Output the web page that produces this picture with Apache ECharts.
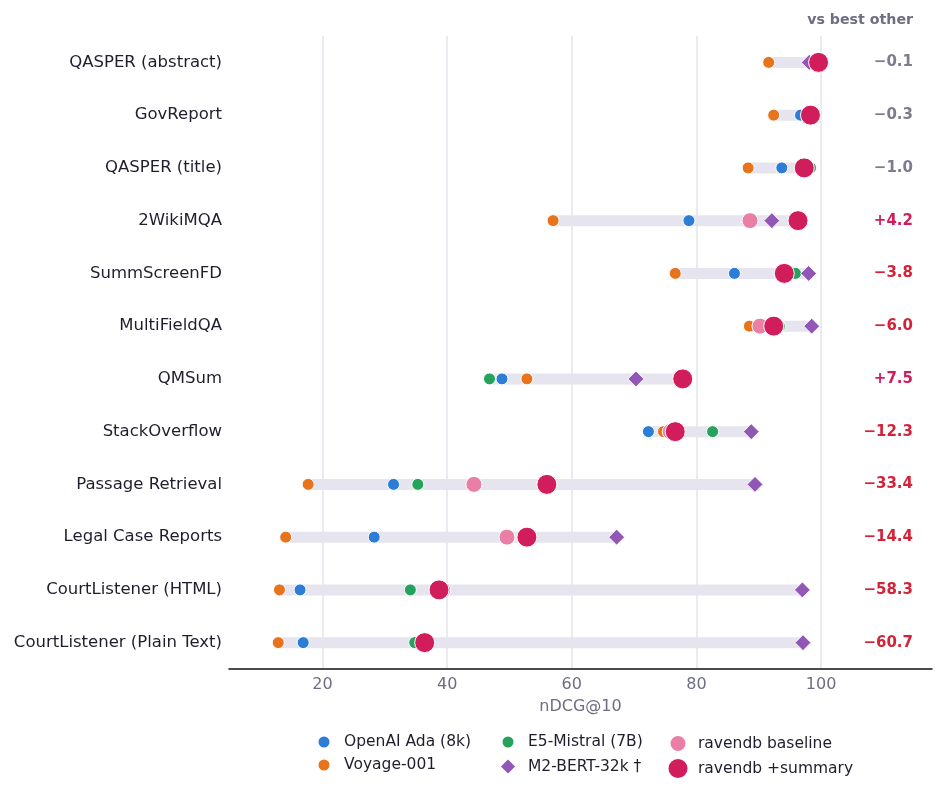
<!DOCTYPE html>
<html>
<head>
<meta charset="utf-8">
<title>nDCG@10</title>
<script src="https://cdn.jsdelivr.net/npm/echarts@6/dist/echarts.min.js"></script>
<style>
  html, body { margin: 0; padding: 0; background: #fff; }
  #main { width: 945px; height: 792px; }
</style>
</head>
<body>
<div id="main"></div>
<script>
// 数据集 (从上到下)
var categories = [
  'QASPER (abstract)', 'GovReport', 'QASPER (title)', '2WikiMQA',
  'SummScreenFD', 'MultiFieldQA', 'QMSum', 'StackOverflow',
  'Passage Retrieval', 'Legal Case Reports', 'CourtListener (HTML)',
  'CourtListener (Plain Text)'
];
var adaValues      = [null, 96.7, 93.7, 78.8, 86.1, null, 48.8, 72.3, 31.4, 28.3, 16.4, 16.9];
var voyageValues   = [91.6, 92.4, 88.3, 57.0, 76.6, 88.5, 52.8, 74.7, 17.7, 14.1, 13.1, 12.9];
var e5Values       = [99.7, 98.6, 98.3, null, 95.9, 93.3, 46.8, 82.6, 35.3, null, 34.1, 34.8];
var m2bertValues   = [98.1, null, null, 92.1, 98.0, 98.5, 70.3, 88.8, 89.4, 67.2, 97.0, 97.1];
var baselineValues = [null, null, null, 88.6, null, 90.2, null, 75.8, 44.3, 49.6, 39.3, null];
var summaryValues  = [99.6, 98.3, 97.3, 96.3, 94.1, 92.4, 77.8, 76.6, 56.0, 52.8, 38.7, 36.4];
var deltas         = [-0.1, -0.3, -1.0, 4.2, -3.8, -6.0, 7.5, -12.3, -33.4, -14.4, -58.3, -60.7];
var xTicks         = [20, 40, 60, 80, 100];

var FONT = 'DejaVu Sans';
var models = [
  { name: 'OpenAI Ada (8k)',  data: adaValues,      color: '#2d7dd6', symbol: 'circle',  size: 12, col: 0, row: 0 },
  { name: 'Voyage-001',       data: voyageValues,   color: '#e8731d', symbol: 'circle',  size: 12, col: 0, row: 1 },
  { name: 'E5-Mistral (7B)',  data: e5Values,       color: '#26a25c', symbol: 'circle',  size: 12, col: 1, row: 0 },
  { name: 'M2-BERT-32k \u2020', data: m2bertValues, color: '#9256b6', symbol: 'diamond', size: 16, col: 1, row: 1 },
  { name: 'ravendb baseline', data: baselineValues, color: '#e97fa5', symbol: 'circle',  size: 16, col: 2, row: 0 },
  { name: 'ravendb +summary', data: summaryValues,  color: '#d11d5b', symbol: 'circle',  size: 20, col: 2, row: 1 }
];

// 每行的范围 (最小值 -> 最大值)
var rangeData = categories.map(function (c, i) {
  var vals = models.map(function (m) { return m.data[i]; }).filter(function (v) { return v != null; });
  return [i, Math.min.apply(null, vals), Math.max.apply(null, vals)];
});

var legendCols = [323, 507, 677];
var legendRows = [744, 767];

var series = [{
  type: 'custom',
  data: rangeData,
  encode: { x: [1, 2], y: 0 },
  silent: true,
  z: 1,
  renderItem: function (params, api) {
    var a = api.coord([api.value(1), api.value(0)]);
    var b = api.coord([api.value(2), api.value(0)]);
    var h = 11;
    return {
      type: 'rect',
      shape: { x: a[0], y: a[1] - h / 2, width: b[0] - a[0], height: h },
      style: { fill: '#e6e4ee' }
    };
  }
}];
var legends = [];
models.forEach(function (m, k) {
  series.push({
    name: m.name,
    type: 'scatter',
    symbol: m.symbol,
    symbolSize: m.size,
    z: 2 + k,
    itemStyle: { color: m.color, borderColor: '#fff', borderWidth: 1, opacity: 1 },
    data: m.data.map(function (v, i) { return v == null ? null : [v, categories[i]]; })
  });
  var iconSize = m.size + 1;
  legends.push({
    data: [{ name: m.name, icon: m.symbol }],
    left: legendCols[m.col] - iconSize / 2,
    top: legendRows[m.row] - 10,
    height: 20,
    padding: 0,
    itemWidth: iconSize,
    itemHeight: iconSize,
    itemGap: 0,
    selectedMode: false,
    textStyle: {
      fontFamily: FONT, fontSize: 15.5, color: '#1e1e2e',
      padding: [0, 0, 0, 20 - iconSize / 2 - 5]
    }
  });
});

function fmtDelta(v) {
  var s = Math.abs(v).toFixed(1);
  return (v > 0 ? '+' : '\u2212') + s;
}

var myChart = echarts.init(document.getElementById('main'));
var option = {
  animation: false,
  backgroundColor: '#fff',
  title: {
    text: 'vs best other',
    right: 27,
    top: 8,
    textStyle: { fontFamily: FONT, fontSize: 14.2, fontWeight: 'bold', color: '#6e6e82' }
  },
  legend: legends,
  grid: { left: 229, right: 13, top: 36, bottom: 123, containLabel: false },
  xAxis: {
    type: 'value',
    min: 5,
    max: 117.8,
    name: 'nDCG@10',
    nameLocation: 'middle',
    nameGap: 30,
    nameTextStyle: { fontFamily: FONT, fontSize: 16, color: '#6e6e82' },
    axisLine: { show: true, lineStyle: { color: '#111', width: 1.5 } },
    axisTick: { show: false, customValues: xTicks },
    axisLabel: { customValues: xTicks, fontFamily: FONT, fontSize: 16, color: '#6e6e82', margin: 8 },
    splitLine: { show: true, lineStyle: { color: '#e3e3ec', width: 1.5 } }
  },
  yAxis: [{
    type: 'category',
    data: categories,
    inverse: true,
    axisLine: { show: false },
    axisTick: { show: false },
    splitLine: { show: false },
    axisLabel: { fontFamily: FONT, fontSize: 16.5, color: '#1e1e2e', margin: 7 }
  }, {
    type: 'category',
    data: deltas,
    inverse: true,
    position: 'right',
    offset: -19,
    axisLine: { show: false },
    axisTick: { show: false },
    splitLine: { show: false },
    axisLabel: {
      inside: true,
      margin: 0,
      formatter: function (v) {
        var n = parseFloat(v);
        var key = Math.abs(n) <= 1 ? 'near' : (n > 0 ? 'up' : 'down');
        return '{' + key + '|' + fmtDelta(n) + '}';
      },
      rich: {
        near: { fontFamily: FONT, fontSize: 15, fontWeight: 'bold', color: '#7c7c8e' },
        up:   { fontFamily: FONT, fontSize: 15, fontWeight: 'bold', color: '#d11d5b' },
        down: { fontFamily: FONT, fontSize: 15, fontWeight: 'bold', color: '#d42338' }
      }
    }
  }],
  series: series
};
myChart.setOption(option);
</script>
</body>
</html>
